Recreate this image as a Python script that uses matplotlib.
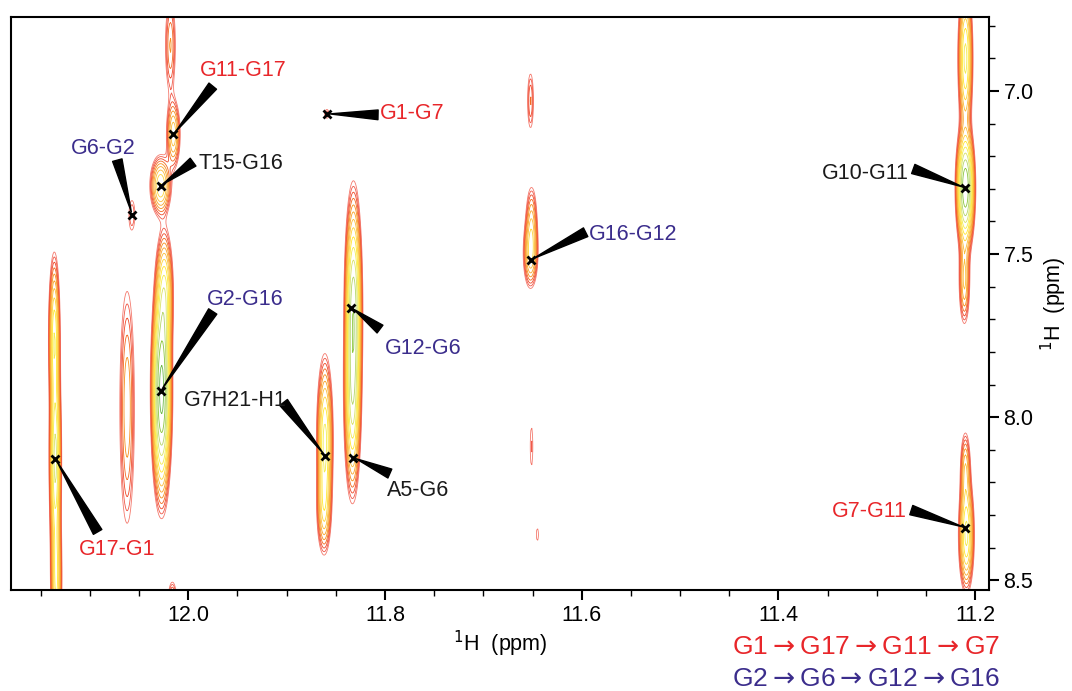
import matplotlib.pyplot as plt
import numpy as np
from matplotlib.ticker import MultipleLocator

plt.rcParams['font.family'] = ['Liberation Sans', 'DejaVu Sans']

# cross-peak assignments (x = direct 1H ppm, y = indirect 1H ppm)
peak_names = ['G17-G1', 'G2-G16', 'T15-G16', 'G11-G17', 'G6-G2', 'G1-G7',
              'G7H21-H1', 'G12-G6', 'A5-G6', 'G16-G12', 'G10-G11', 'G7-G11']
peak_x = [12.135, 12.028, 12.028, 12.015, 12.057, 11.859,
          11.861, 11.834, 11.832, 11.652, 11.210, 11.210]
peak_y = [8.127, 7.921, 7.291, 7.133, 7.379, 7.070,
          8.118, 7.664, 8.124, 7.518, 7.297, 8.339]
peak_group = ['red', 'blue', 'black', 'red', 'blue', 'red',
              'black', 'blue', 'black', 'blue', 'black', 'red']

# where each label sits and where its pointer starts
label_x = [12.072, 11.942, 11.946, 11.944, 12.086, 11.772,
           11.952, 11.761, 11.766, 11.548, 11.312, 11.308]
label_y = [8.406, 7.639, 7.221, 6.936, 7.176, 7.070,
           7.948, 7.788, 8.224, 7.439, 7.252, 8.288]
wedge_x = [12.092, 11.975, 11.995, 11.975, 12.072, 11.807,
           11.903, 11.805, 11.795, 11.596, 11.263, 11.265]
wedge_y = [8.352, 7.676, 7.218, 6.985, 7.212, 7.073,
           7.955, 7.730, 8.173, 7.433, 7.239, 8.285]

# contour signal components: centre x, centre y, width x, width y, height
comp_x = [12.135, 12.136, 12.134,
          12.062, 12.057,
          12.018, 12.015, 12.028, 12.027, 12.024, 12.016,
          11.859, 11.861, 11.862,
          11.832, 11.833,
          11.652, 11.652, 11.651, 11.651, 11.645,
          11.210, 11.210, 11.211, 11.209, 11.210]
comp_y = [8.13, 7.75, 8.50,
          7.97, 7.379,
          6.86, 7.133, 7.29, 7.92, 7.62, 8.56,
          7.070, 8.07, 8.28,
          7.66, 7.95,
          7.03, 7.50, 7.40, 8.09, 8.36,
          7.297, 6.90, 7.58, 8.36, 8.16]
comp_wx = [0.0030, 0.0030, 0.0030,
           0.0050, 0.0030,
           0.0037, 0.0040, 0.0058, 0.0047, 0.0045, 0.0030,
           0.0025, 0.0042, 0.0040,
           0.0042, 0.0042,
           0.0025, 0.0042, 0.0035, 0.0018, 0.0018,
           0.0044, 0.0038, 0.0032, 0.0040, 0.0030]
comp_wy = [0.16, 0.13, 0.12,
           0.24, 0.045,
           0.10, 0.06, 0.05, 0.16, 0.10, 0.04,
           0.015, 0.13, 0.08,
           0.17, 0.15,
           0.07, 0.06, 0.07, 0.08, 0.03,
           0.09, 0.12, 0.08, 0.09, 0.07]
comp_h = [1.0, 0.7, 0.6,
          0.3, 0.15,
          0.25, 0.45, 0.6, 2.0, 0.7, 0.25,
          0.15, 0.8, 0.4,
          1.3, 0.9,
          0.2, 0.45, 0.3, 0.13, 0.12,
          1.8, 0.8, 0.4, 0.8, 0.35]

x = np.linspace(12.18, 11.186, 1000)
y = np.linspace(6.77, 8.53, 700)
X, Y = np.meshgrid(x, y)
Z = np.zeros_like(X)
for cx, cy, wx, wy, h in zip(comp_x, comp_y, comp_wx, comp_wy, comp_h):
    Z += h * np.exp(-0.5 * ((X - cx) / wx) ** 2 - 0.5 * ((Y - cy) / wy) ** 2)

levels = 0.1 * 1.25 ** np.arange(16)
level_colors = ['#f47a6e', '#f05a4a', '#ef4a2a', '#f26a22', '#f7901e', '#f9a52a',
                '#fbbd3a', '#fdd53a', '#ffe82e', '#f3ec50', '#d8e36a', '#b5d66a',
                '#8cc63f', '#6cb94a', '#4fae4f', '#3aa04a']

fig = plt.figure(figsize=(10.72, 6.91), dpi=100)
ax = fig.add_axes([0.0103, 0.1462, 0.9123, 0.8292])

ax.contour(X, Y, Z, levels=levels, colors=level_colors, linewidths=0.6)

text_colors = {'red': '#e8262a', 'blue': '#3b2d8c', 'black': '#1a1a1a'}

for i in range(len(peak_names)):
    ax.plot(peak_x[i], peak_y[i], marker='x', color='black', ms=6, mew=2)
    ax.annotate('', xy=(peak_x[i], peak_y[i]), xytext=(wedge_x[i], wedge_y[i]),
                arrowprops=dict(arrowstyle='wedge,tail_width=0.35', color='black',
                                shrinkA=0, shrinkB=2, mutation_scale=20))
    ax.text(label_x[i], label_y[i], peak_names[i], color=text_colors[peak_group[i]],
            fontsize=15.5, ha='center', va='center')

ax.set_xlim(12.18, 11.186)
ax.set_ylim(8.53, 6.773)
ax.xaxis.set_major_locator(MultipleLocator(0.2))
ax.xaxis.set_minor_locator(MultipleLocator(0.05))
ax.yaxis.set_major_locator(MultipleLocator(0.5))
ax.yaxis.set_minor_locator(MultipleLocator(0.1))
ax.xaxis.set_major_formatter('{x:.1f}')
ax.yaxis.set_major_formatter('{x:.1f}')
ax.yaxis.tick_right()
ax.yaxis.set_label_position('right')
ax.tick_params(which='major', direction='out', length=7, width=1.5, labelsize=15.5)
ax.tick_params(which='minor', direction='out', length=4, width=1)
for s in ax.spines.values():
    s.set_linewidth(1.5)

ax.set_xlabel('$^1$H  (ppm)', fontsize=15.5, labelpad=2)
ax.set_ylabel('$^1$H  (ppm)', fontsize=15.5, labelpad=4)

arrow = r'${\rightarrow}$'
fig.text(0.933, 0.063, arrow.join(['G1', 'G17', 'G11', 'G7']), color='#e8262a',
         fontsize=19, ha='right', va='center')
fig.text(0.933, 0.018, arrow.join(['G2', 'G6', 'G12', 'G16']), color='#3b2d8c',
         fontsize=19, ha='right', va='center')

fig.savefig('out.png', dpi=100)
